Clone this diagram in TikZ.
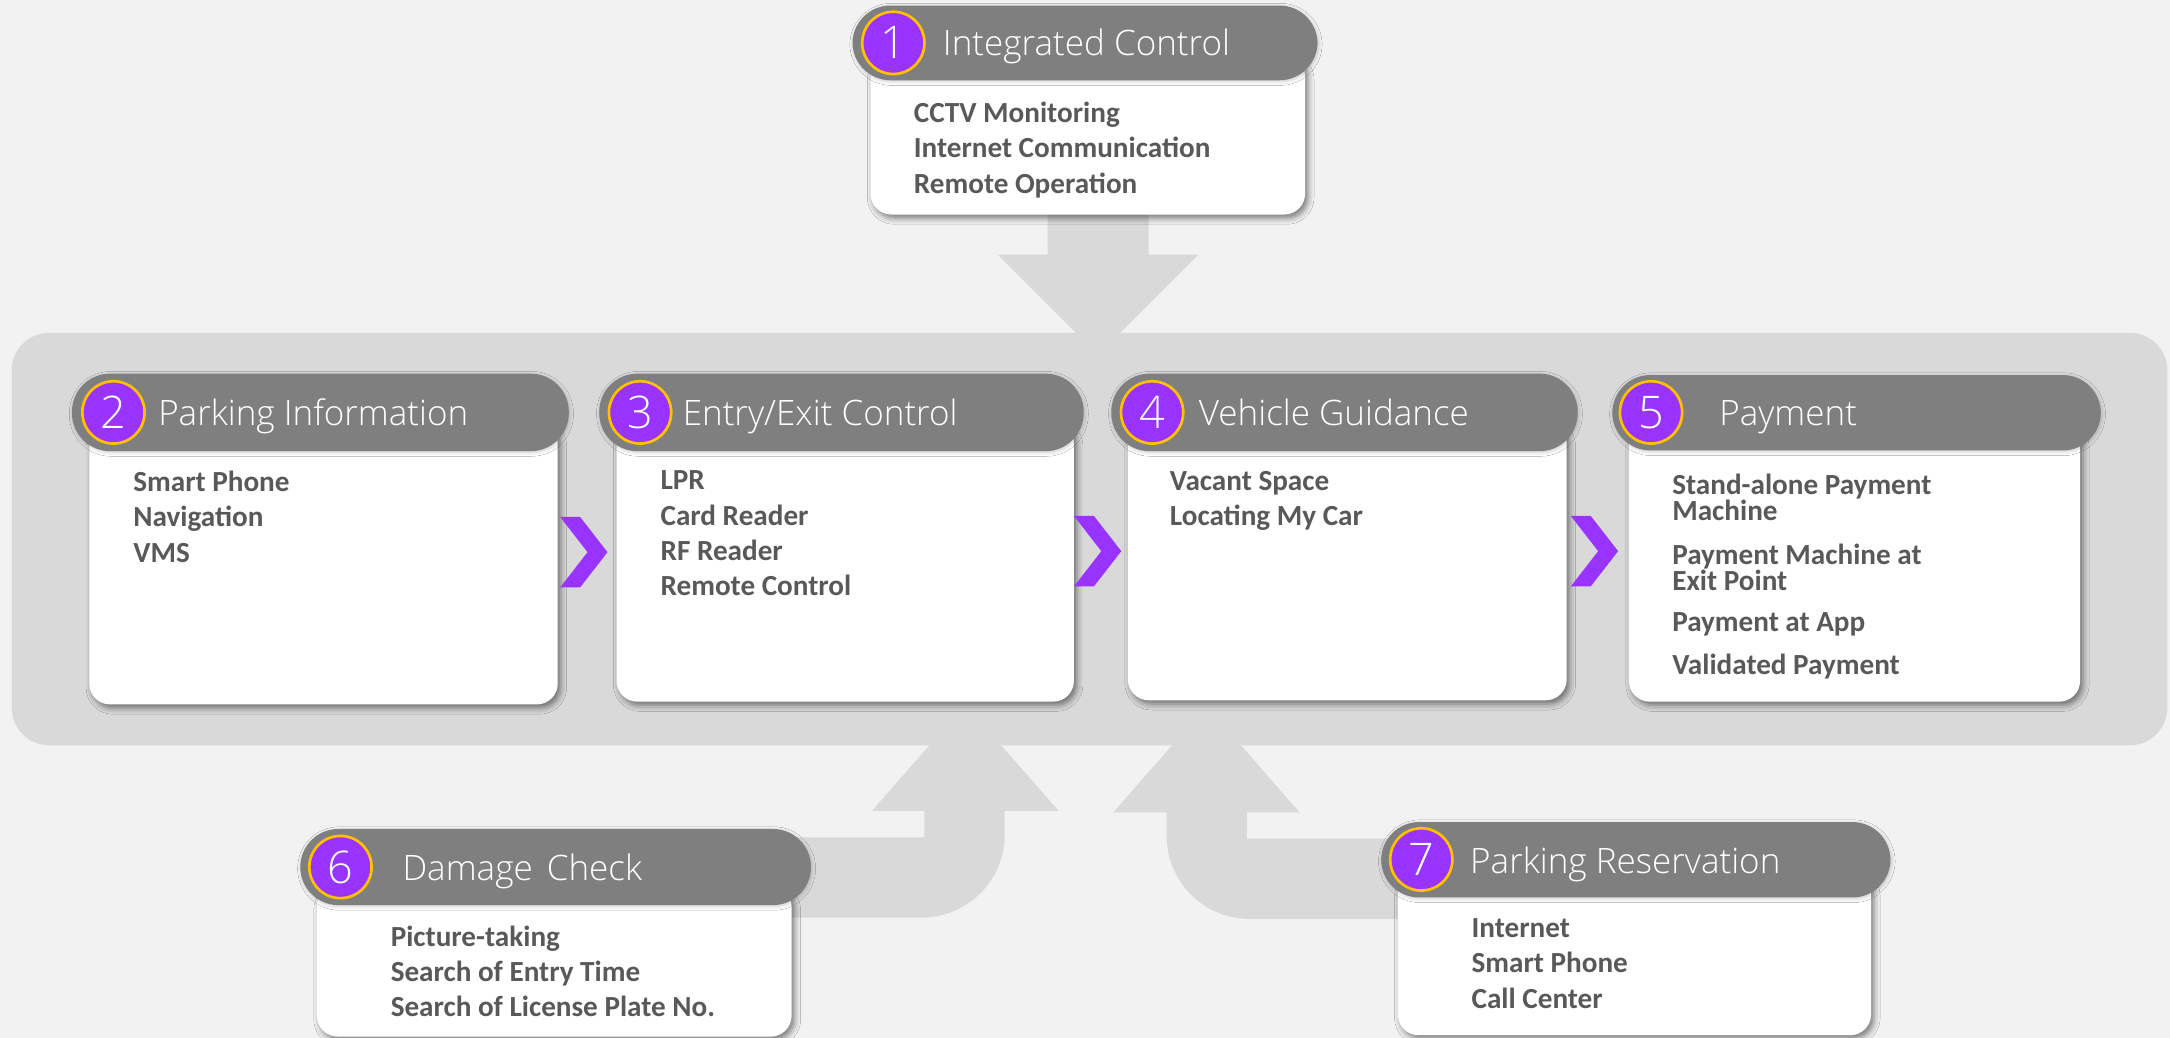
\documentclass[tikz,border=0pt]{standalone}
\usepackage{fontspec}
\setmainfont{Carlito}
\IfFontExistsTF{Open Sans Light}
  {\newfontfamily\headfont{Open Sans Light}}
  {\newfontfamily\headfont{Open Sans}}
\usepackage{tikz}
\usepackage{xcolor}
\usetikzlibrary{calc,fit,shadows.blur}

\definecolor{pagegray}{HTML}{F2F2F2}
\definecolor{hubgray}{HTML}{D9D9D9}
\definecolor{headgray}{HTML}{7F7F7F}
\definecolor{badgefill}{HTML}{9933FF}
\definecolor{badgering}{HTML}{FFC000}
\definecolor{itemgray}{HTML}{595959}

\begin{document}
\begin{tikzpicture}[x=0.02cm, y=-0.02cm,
  hub/.style={fill=hubgray, rounded corners=0.54cm, inner sep=0pt},
  feed/.style={fill=hubgray},
  card/.style={fill=white, rounded corners=0.3cm, inner sep=0pt,
    blur shadow={shadow xshift=1.2pt, shadow yshift=-1.5pt, shadow blur radius=2.5pt, shadow opacity=50}},
  pill/.style={fill=headgray, rounded corners=0.55cm, inner sep=0pt,
    blur shadow={shadow xshift=0.4pt, shadow yshift=-0.6pt, shadow blur radius=1.5pt, shadow opacity=20}},
  badge/.style={circle, fill=badgefill, draw=badgering, line width=1.1pt, minimum size=0.9cm, inner sep=0pt,
    text=white, font=\headfont\fontsize{18.5}{18.5}\selectfont},
  headtext/.style={anchor=base west, inner sep=0pt, text=white, font=\headfont\fontsize{14.4}{16}\selectfont},
  itemtext/.style={anchor=north west, inner sep=0pt, align=left, text=itemgray, font=\fontsize{12}{14.5}\selectfont\bfseries},
  chev/.style={fill=badgefill}]
 \useasboundingbox (0,0) rectangle (1568,750);
 \fill [pagegray] (0,0) rectangle (1568,750);

 % big arrows into the band
 \fill [feed] (757,150) -- (757,184) -- (721,184) -- (793.5,256.5) -- (866,184) -- (830,184) -- (830,150) -- cycle;
 \fill [feed] (560,605) -- (668,605) -- (668,586) -- (630,586) -- (697.5,509) -- (765,586) -- (726,586)
   -- (726,603) arc [start angle=0, end angle=90, radius=60] -- (560,663) -- cycle;
 \fill [feed] (1030,606) -- (901,606) -- (901,587) -- (939,587) -- (871.8,510) -- (804.5,587) -- (843,587)
   -- (843,604) arc [start angle=180, end angle=90, radius=60] -- (1030,664) -- cycle;
 \node [hub, fit={(8.5,240.5) (1566,538.5)}] (hub) {};

 % 1
 \node [card, fit={(629,40) (943,155)}] (ctrlbody) {};
 \node [pill, fit={(616,4) (952,58)}] (ctrlhead) {};
 \node [badge] (ctrlno) at (645.5,31) {1};
 \node [headtext] (ctrltitle) at (681,40) {Integrated Control};
 \node [itemtext] (ctrlitems) at (660,73.5) {CCTV Monitoring\\Internet Communication\\Remote Operation};

 % 2
 \node [card, fit={(64.5,305) (403,509)}] (infobody) {};
 \node [pill, fit={(52,270) (411,326)}] (infohead) {};
 \node [badge] (infono) at (82,298) {2};
 \node [headtext] (infotitle) at (114,307.5) {Parking Information};
 \node [itemtext] (infoitems) at (96,340) {Smart Phone\\Navigation\\VMS};

 % 3
 \node [card, fit={(445.5,305) (776,507)}] (entrybody) {};
 \node [pill, fit={(433,270) (783,326)}] (entryhead) {};
 \node [badge] (entryno) at (462.5,298) {3};
 \node [headtext] (entrytitle) at (493,307.5) {Entry/Exit Control};
 \node [itemtext] (entryitems) at (477,340) {LPR\\Card Reader\\RF Reader\\Remote Control};

 % 4
 \node [card, fit={(815,305) (1132,506)}] (guidebody) {};
 \node [pill, fit={(803,270) (1140,326)}] (guidehead) {};
 \node [badge] (guideno) at (832.5,298) {4};
 \node [headtext] (guidetitle) at (866,307.5) {Vehicle Guidance};
 \node [itemtext] (guideitems) at (845,340) {Vacant Space\\Locating My Car};

 % 5
 \node [card, fit={(1177,305) (1503,507)}] (paybody) {};
 \node [pill, fit={(1165,271) (1518,325.5)}] (payhead) {};
 \node [badge] (payno) at (1193,298) {5};
 \node [headtext] (paytitle) at (1242,307.5) {Payment};
 \node [itemtext] (payitems) at (1208,342) {Stand-alone Payment\\[-3.8pt]Machine\\[3.5pt]Payment Machine at\\[-3.8pt]Exit Point\\[2.6pt]Payment at App\\[3.2pt]Validated Payment};

 \foreach \a/\b in {infobody/entrybody, entrybody/guidebody, guidebody/paybody}
   \fill [chev] ($(\a.east)!.5!(\b.west)$) ++(-19.5,-33) -- ++(14.4,0) -- ++(19.8,25.5) -- ++(-19.8,25.5)
     -- ++(-14.4,0) -- ++(19.8,-25.5) -- cycle;

 % 6
 \node [card, fit={(229,640) (572,749)}] (dmgbody) {};
 \node [pill, fit={(217,599) (586,654)}] (dmghead) {};
 \node [badge] (dmgno) at (246,626.5) {6};
 \node [headtext] (dmgtitle) at (290.5,636) {Damage\hspace{0.4em}Check};
 \node [itemtext] (dmgitems) at (282,668.5) {Picture-taking\\Search of Entry Time\\Search of License Plate No.};

 % 7
 \node [card, fit={(1010,630) (1352,748)}] (resvbody) {};
 \node [pill, fit={(998,594) (1366,648.5)}] (resvhead) {};
 \node [badge] (resvno) at (1027,621) {7};
 \node [headtext] (resvtitle) at (1062,631) {Parking Reservation};
 \node [itemtext] (resvitems) at (1063,663.5) {Internet\\Smart Phone\\Call Center};
\end{tikzpicture}
\end{document}
